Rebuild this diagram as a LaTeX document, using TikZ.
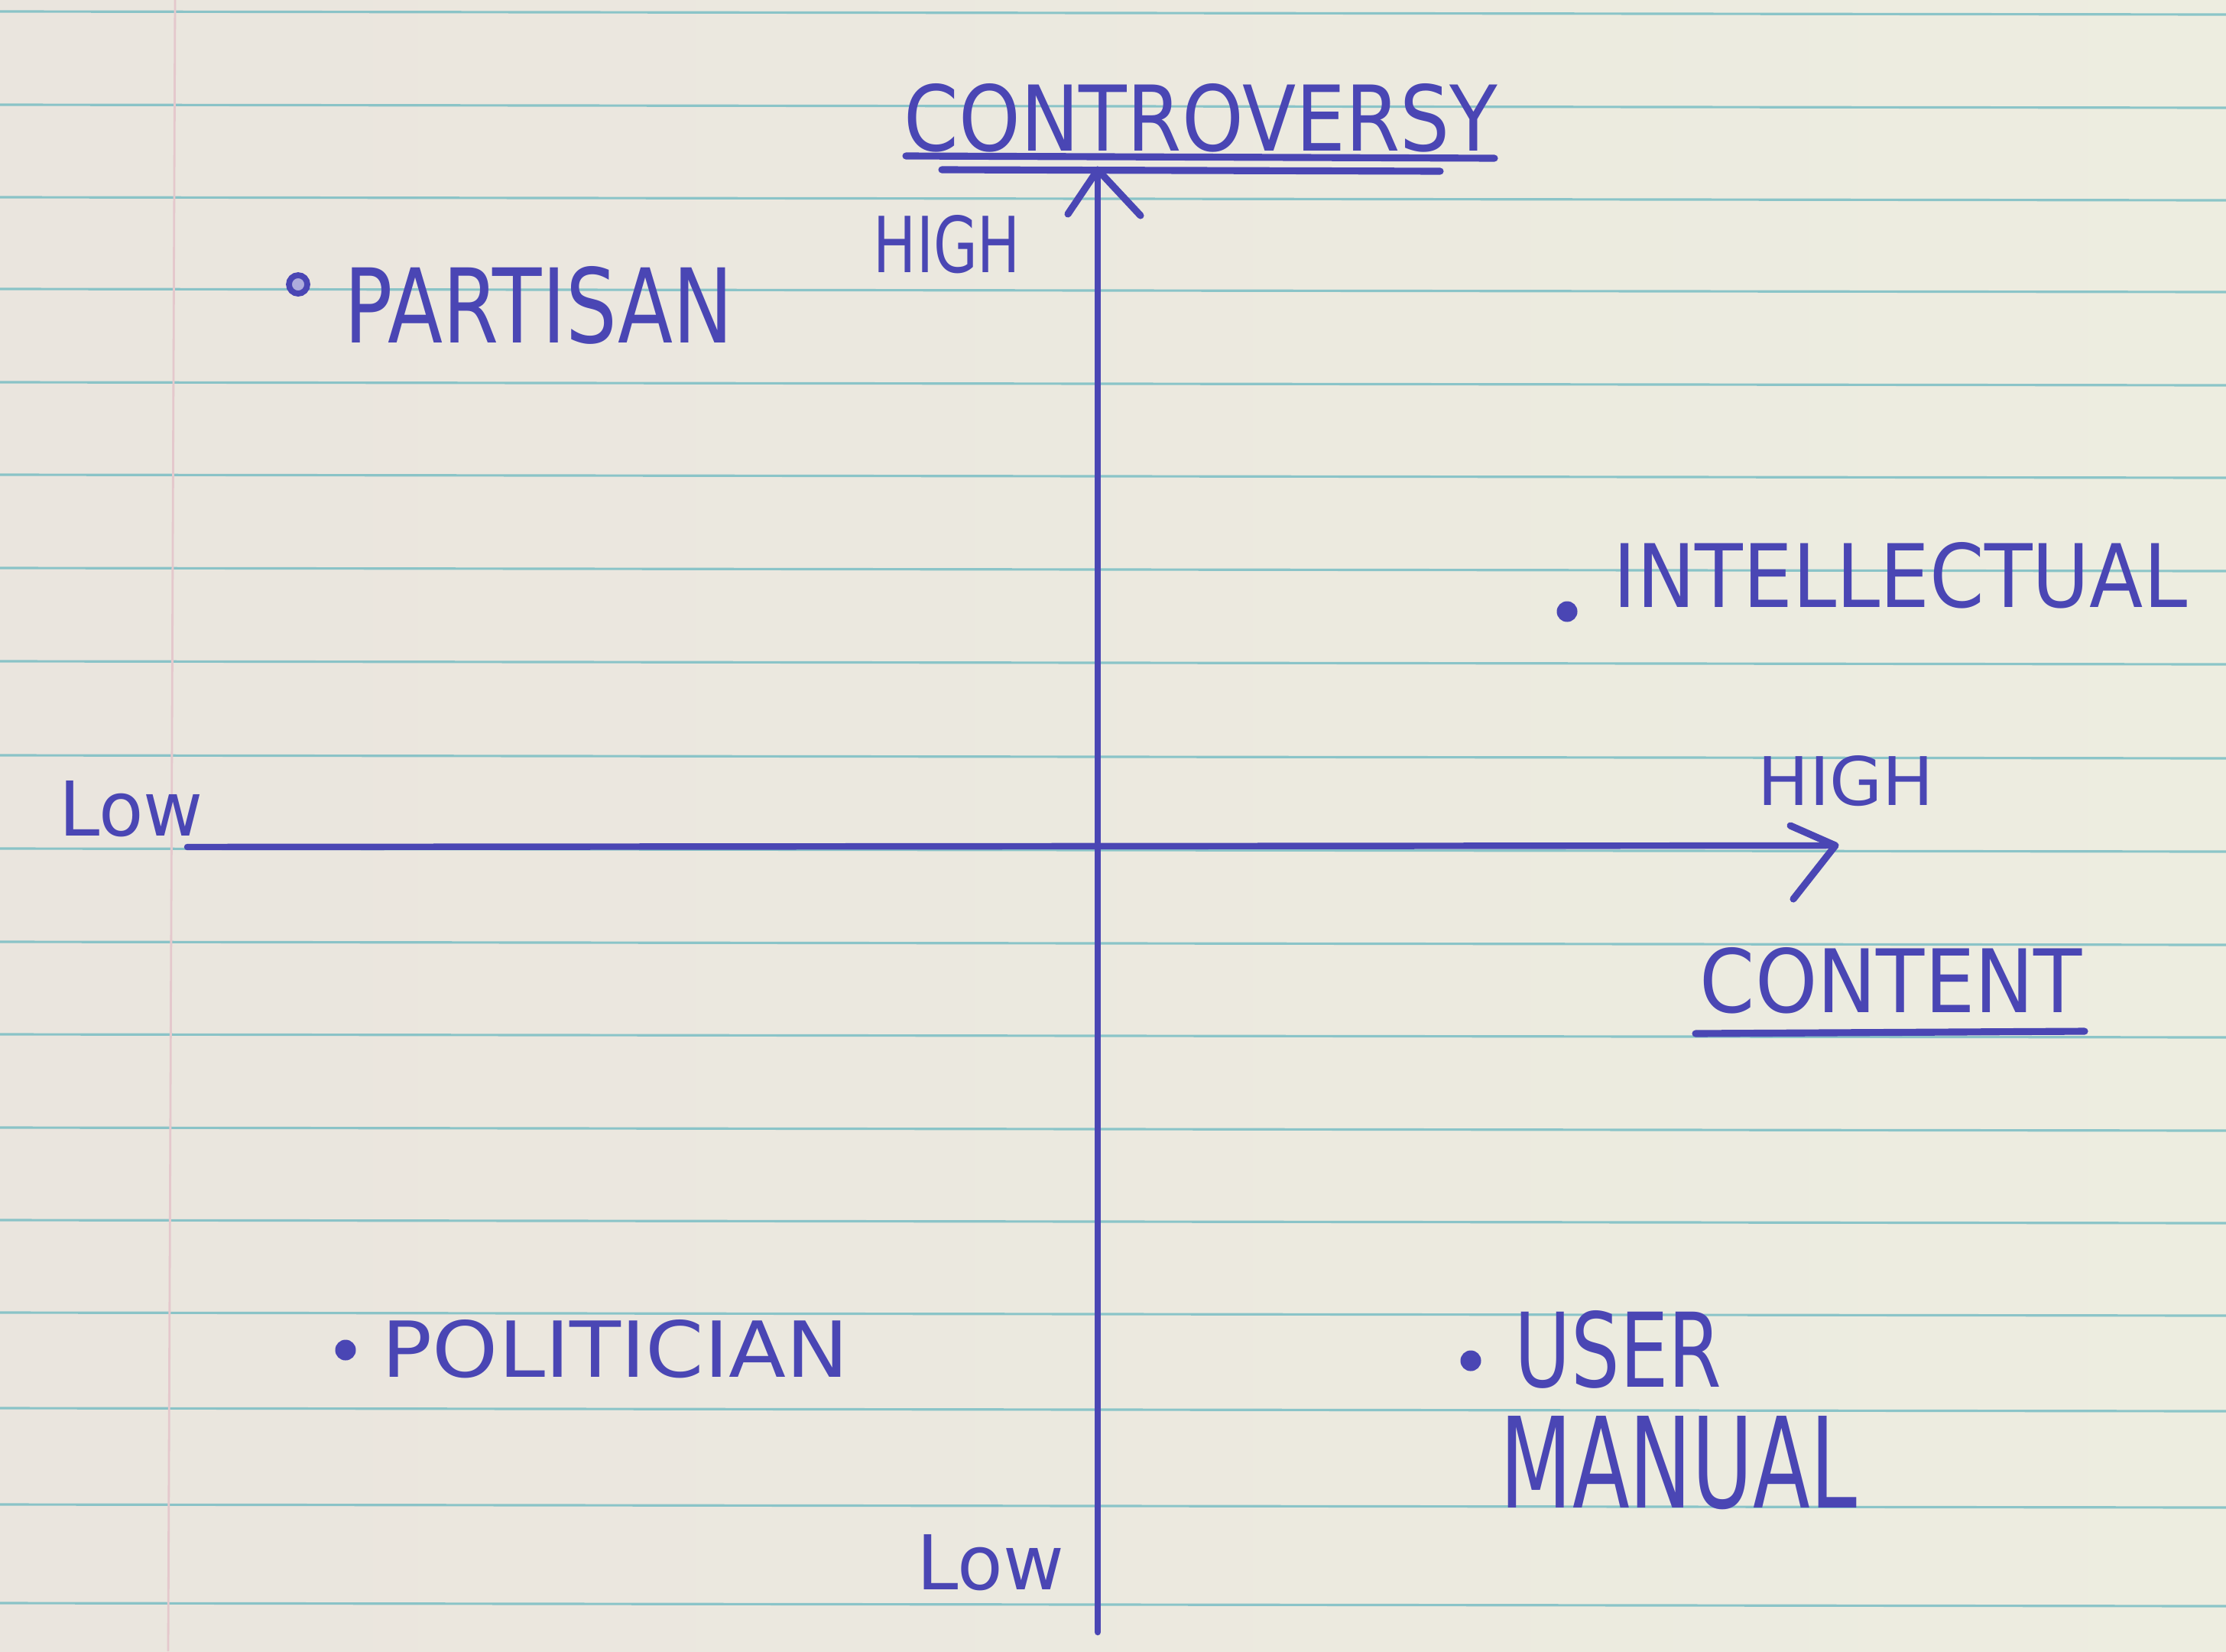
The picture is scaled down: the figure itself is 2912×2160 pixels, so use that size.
\documentclass[tikz,border=0pt]{standalone}
\usepackage{fontspec}
\setmainfont{DejaVu Sans}
\usepackage{graphicx}
\definecolor{paperL}{RGB}{234,229,222}
\definecolor{paperR}{RGB}{237,237,224}
\definecolor{rulec}{RGB}{122,190,196}
\definecolor{marginc}{RGB}{228,200,204}
\definecolor{ink}{RGB}{74,70,180}
\newcommand{\hw}[3]{\resizebox{#1cm}{#2cm}{#3}}
\tikzset{
  axisline/.style={draw=ink, line width=2.4pt, line cap=round, line join=round},
  pen/.style={draw=ink, line width=2.6pt, line cap=round, line join=round},
  word/.style={inner sep=0pt, outer sep=0pt, text=ink},
  dotmark/.style={circle, fill=ink, inner sep=0pt, minimum size=0.27cm},
  ringmark/.style={circle, draw=ink, line width=2.2pt, fill=ink!45, inner sep=0pt, minimum size=0.24cm},
  paperline/.style={draw=rulec, line width=0.9pt, opacity=0.85},
}
\begin{document}
\begin{tikzpicture}[x=0.01cm,y=-0.01cm]
\useasboundingbox (0,0) rectangle (2912,2160);
% paper
\shade[left color=paperL, right color=paperR] (0,0) rectangle (2912,2160);
\foreach \yy in {15,137,258,378,500,621,743,865,988,1110,1232,1353,1475,1596,1717,1842,1968,2097}
  \draw[paperline] (0,\yy) -- (2912,\yy+4);
\draw[marginc, line width=0.8pt] (229,0) -- (220,2160);

% axes
\coordinate (vbot) at (1436,2135);
\coordinate (vtop) at (1436,222);
\coordinate (hleft) at (245,1108);
\coordinate (hright) at (2401,1106);
\draw[axisline] (vbot) -- (vtop);
\draw[axisline] (hleft) -- (hright);
\draw[pen] (1397,280) -- (vtop) -- (1492,282);
\draw[pen] (2342,1080) -- (hright) -- (2346,1176);

% axis titles
\node[word] (controversy) at (1571,154) {\hw{7.76}{0.88}{CONTROVERSY}};
\draw[pen] (1185,204) -- (1955,207);
\draw[pen] (1232,222) -- (1884,224);
\node[word] (content) at (2474,1283) {\hw{5.0}{0.85}{CONTENT}};
\draw[pen] (2218,1352) -- (2727,1349);

% scale labels
\node[word] (hightop) at (1239,320) {\hw{1.92}{0.75}{HIGH}};
\node[word] (highright) at (2415,1022) {\hw{2.3}{0.65}{HIGH}};
\node[word] (lowleft) at (172,1058) {\hw{1.88}{0.72}{Low}};
\node[word] (lowbottom) at (1296,2044) {\hw{1.92}{0.72}{Low}};

% points
\node[ringmark] (dpartisan) at (390,372) {};
\node[word] (partisan) at (705,399) {\hw{5.09}{1.0}{PARTISAN}};
\node[dotmark] (dintellectual) at (2050,800) {};
\node[word] (intellectual) at (2486,753) {\hw{7.5}{0.85}{INTELLECTUAL}};
\node[dotmark] (dpolitician) at (452,1766) {};
\node[word] (politician) at (805,1765) {\hw{6.1}{0.75}{POLITICIAN}};
\node[dotmark] (duser) at (1924,1780) {};
\node[word] (user) at (2117,1765) {\hw{2.7}{1.0}{USER}};
\node[word] (manual) at (2196,1914) {\hw{4.66}{1.2}{MANUAL}};
\end{tikzpicture}
\end{document}
